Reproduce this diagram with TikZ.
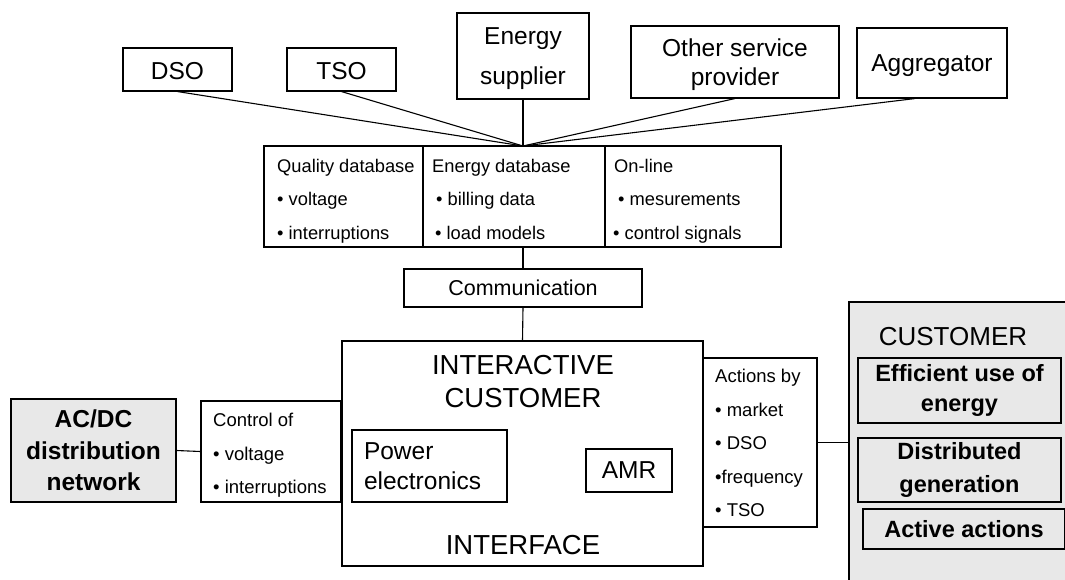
\documentclass[tikz,border=0pt]{standalone}
\usepackage{fontspec}
\setmainfont{Liberation Sans}
\definecolor{custgray}{RGB}{232,232,232}
\tikzset{
  box/.style={draw, line width=1.1pt, inner sep=0pt},
  gbox/.style={box, fill=custgray},
  link/.style={line width=1.1pt},
  ftop/.style={font=\fontsize{24.5}{29}\selectfont},
  cell/.style={align=left, inner sep=0pt, font=\fontsize{18.3}{33.5}\selectfont},
  cellb/.style={align=left, inner sep=0pt, font=\fontsize{18.5}{33.4}\selectfont},
  bigtitle/.style={inner sep=0pt, align=center, font=\fontsize{27.5}{33}\selectfont}
}
\begin{document}
\begin{tikzpicture}[x=1pt,y=-1pt]
\clip (0,0) rectangle (1065,579);
\fill[white] (0,0) rectangle (1065,579);

% top actors
\node[box, minimum width=109pt, minimum height=43pt, ftop] (dso) at (177.5,69.5) {\rule{0pt}{20pt}DSO};
\node[box, minimum width=109pt, minimum height=43pt, ftop] (tso) at (341.5,69.5) {\rule{0pt}{20pt}TSO};
\node[box, minimum width=132pt, minimum height=86pt, align=center, font=\fontsize{24.5}{40}\selectfont] (sup) at (523,56) {\rule{0pt}{23pt}Energy\\supplier};
\node[box, minimum width=208pt, minimum height=72pt, align=center, font=\fontsize{24.5}{29}\selectfont] (osp) at (735,62) {\rule{0pt}{24pt}Other service\\provider};
\node[box, minimum width=150pt, minimum height=70pt, ftop] (agg) at (932,63) {\rule{0pt}{23pt}Aggregator};

% database table
\node[box, minimum width=159pt, minimum height=101pt] (qdb) at (343.5,196.5) {};
\node[box, minimum width=182pt, minimum height=101pt] (edb) at (514,196.5) {};
\node[box, minimum width=176pt, minimum height=101pt] (onl) at (693,196.5) {};
\coordinate (hub) at (523,146);
\node[cell, anchor=west] (qdbt) at (277,199) {\strut Quality database\\\strut • voltage\\\strut • interruptions};
\node[cell, anchor=west] (edbt) at (432,199) {\strut Energy database\\\strut\hspace*{4pt}• billing data\\\strut\hspace*{3pt}• load models};
\node[cell, anchor=west] (onlt) at (613,199) {\strut\hspace*{1pt}On-line\\\strut\hspace*{5pt}• mesurements\\\strut • control signals};

% communication
\node[box, minimum width=238pt, minimum height=38pt, font=\fontsize{21.5}{26}\selectfont] (comm) at (523,288) {Communication};

% interactive customer interface
\node[box, minimum width=361pt, minimum height=225pt] (ic) at (522.5,453.5) {};
\node[bigtitle] (ictitle) at (523,381.5) {INTERACTIVE\\CUSTOMER};
\node[box, minimum width=155pt, minimum height=72pt, text width=131pt, align=left, font=\fontsize{24.5}{30}\selectfont] (pe) at (429.5,466) {Power\\electronics};
\node[box, minimum width=86pt, minimum height=43pt, font=\fontsize{24.5}{29}\selectfont] (amr) at (629,470.5) {AMR};
\node[bigtitle] (ifc) at (523,545) {INTERFACE};

% control of
\node[box, minimum width=140pt, minimum height=101pt] (ctl) at (271,451.5) {};
\node[cellb, anchor=west] (ctlt) at (213,453.5) {\strut Control of\\\strut • voltage\\\strut • interruptions};

% AC/DC network
\node[gbox, minimum width=165pt, minimum height=103pt, align=center, font=\fontsize{24.5}{31.5}\selectfont\bfseries] (net) at (93.5,450.5) {AC/DC\\distribution\\network};

% actions by
\node[box, minimum width=114pt, minimum height=169pt] (act) at (760,442.5) {};
\node[cellb, anchor=west] (actt) at (715,443) {\strut Actions by\\\strut • market\\\strut • DSO\\\strut •frequency\\\strut • TSO};

% customer
\node[gbox, minimum width=220pt, minimum height=290pt] (cust) at (959,447) {};
\node[inner sep=0pt, font=\fontsize{26}{31}\selectfont] (custt) at (953,337) {CUSTOMER};
\node[gbox, minimum width=203pt, minimum height=65pt, align=center, font=\fontsize{23.5}{30}\selectfont\bfseries] (eff) at (959.5,390.5) {Efficient use of\\energy};
\node[gbox, minimum width=203pt, minimum height=64pt, align=center, font=\fontsize{23.5}{33}\selectfont\bfseries] (dg) at (959.5,470) {Distributed\\generation};
\node[gbox, minimum width=202pt, minimum height=40pt, font=\fontsize{23.5}{28}\selectfont\bfseries] (aa) at (964,529) {Active actions};

% connectors
\draw[link] (dso.south) -- (hub);
\draw[link] (tso.south) -- (hub);
\draw[link] (sup.south) -- (hub);
\draw[link] (osp.south) -- (hub);
\draw[link] ([xshift=-17pt]agg.south) -- (hub);
\draw[link] (hub |- edb.south) -- (comm.north);
\draw[link] (comm.south) -- (ic.north);
\draw[link] (net.east) -- (ctl.west);
\draw[link] (act.east) -- (act.east -| cust.west);
\end{tikzpicture}
\end{document}
